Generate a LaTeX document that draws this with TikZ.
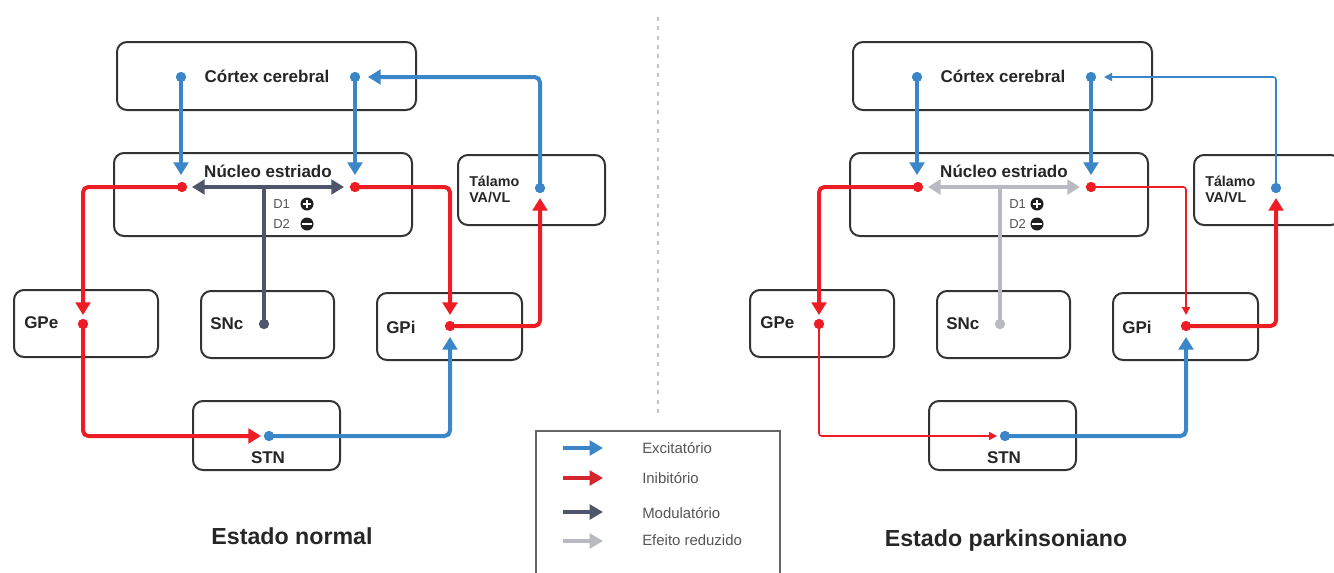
\documentclass[tikz,border=0pt]{standalone}
\usepackage{fontspec}
\setmainfont{Liberation Sans}
\usetikzlibrary{arrows.meta,calc}
\definecolor{cexc}{HTML}{3A86C8}
\definecolor{cinh}{HTML}{EE1C25}
\definecolor{cmod}{HTML}{4F556B}
\definecolor{cred}{HTML}{B9BAC1}
\definecolor{cbox}{HTML}{333333}
\definecolor{ctext}{HTML}{262626}
\definecolor{legred}{HTML}{D5262D}
\definecolor{cdiv}{HTML}{C4C4C4}
\definecolor{legline}{HTML}{666666}
\definecolor{legtext}{HTML}{555555}
\tikzset{
  box/.style={draw=cbox, line width=1.5pt, rounded corners=7.5pt, inner sep=0pt, fill=white},
  lbl/.style={font=\bfseries\fontsize{12.75}{15}\selectfont, text=ctext, inner sep=0pt},
  tallbl/.style={font=\bfseries\fontsize{10.7}{12}\selectfont, text=ctext, inner sep=0pt, align=left},
  dlbl/.style={font=\fontsize{9.75}{11}\selectfont, text=legtext, inner sep=0pt},
  title/.style={font=\bfseries\fontsize{17.4}{20}\selectfont, text=ctext, inner sep=0pt},
  legtxt/.style={font=\fontsize{11.2}{13}\selectfont, text=legtext, inner sep=0pt, anchor=west},
  dotn/.style={circle, fill=#1, inner sep=0pt, minimum size=7.5pt},
  bigarr/.style={draw=#1, line width=3pt, rounded corners=4pt, -{Triangle[length=9.5pt,width=11pt]}},
  smallarr/.style={draw=#1, line width=1.2pt, rounded corners=2pt, -{Triangle[length=6pt,width=6pt]}},
  modarr/.style={draw=#1, line width=3pt, {Triangle[length=9.5pt,width=11pt]}-{Triangle[length=9.5pt,width=11pt]}},
  modline/.style={draw=#1, line width=3pt},
  legarr/.style={draw=#1, line width=3.6pt, -{Triangle[length=10pt,width=11pt]}},
  plusc/.style={circle, fill=black!88, minimum size=9.75pt, inner sep=0pt,
    path picture={\draw[white,line width=1.7pt] ([xshift=-3.2pt]path picture bounding box.center) -- ([xshift=3.2pt]path picture bounding box.center);
                  \draw[white,line width=1.7pt] ([yshift=-3.2pt]path picture bounding box.center) -- ([yshift=3.2pt]path picture bounding box.center);}},
  minusc/.style={circle, fill=black!88, minimum size=9.75pt, inner sep=0pt,
    path picture={\draw[white,line width=1.9pt] ([xshift=-3.4pt]path picture bounding box.center) -- ([xshift=3.4pt]path picture bounding box.center);}},
}
% #1 suffix, #2 xshift (pt), #3 thal->ctx style, #4 nuc->gpi style, #5 gpe->stn style, #6 mod colour, #7 x of D1/D2 signs
\newcommand\drawpanel[7]{%
\begin{scope}[xshift=#2]
  % boxes
  \node[box, minimum width=224.25pt, minimum height=51pt] (ctx#1) at (266.5,76) {};
  \node[box, minimum width=223.5pt, minimum height=62.25pt] (nuc#1) at (263,194.5) {};
  \node[box, minimum width=110.25pt, minimum height=52.5pt] (tal#1) at (531.5,190) {};
  \node[box, minimum width=108pt, minimum height=50.25pt] (gpe#1) at (86,323.5) {};
  \node[box, minimum width=99.75pt, minimum height=50.25pt] (snc#1) at (267.5,324.5) {};
  \node[box, minimum width=108.75pt, minimum height=50.25pt] (gpi#1) at (449.5,326.5) {};
  \node[box, minimum width=110.25pt, minimum height=51.75pt] (stn#1) at (266.5,435.5) {};
  % labels
  \node[lbl] (ctxT#1) at (267,76) {Córtex cerebral};
  \node[lbl] (nucT#1) at (268,171) {Núcleo estriado};
  \node[tallbl, anchor=west] (talT#1) at (469,189) {Tálamo\\VA/VL};
  \node[lbl, anchor=west] (gpeT#1) at (24,323) {GPe};
  \node[lbl, anchor=west] (sncT#1) at (210,324) {SNc};
  \node[lbl, anchor=west] (gpiT#1) at (386,327) {GPi};
  \node[lbl] (stnT#1) at (268,458) {STN};
  \node[dlbl, anchor=west] (d1#1) at (273,204) {D1};
  \node[dlbl, anchor=west] (d2#1) at (273,224) {D2};
  \node[plusc] (pl#1) at (#7,204) {};
  \node[minusc] (mi#1) at (#7,224) {};
  % arrow end points and dot positions
  \coordinate (aNucL#1) at (181,175);
  \coordinate (aNucR#1) at (355,175);
  \coordinate (aCtx#1) at (368,77);
  \coordinate (aGpe#1) at (83,315);
  \coordinate (aGpiT#1) at (450,315);
  \coordinate (aStn#1) at (261,436);
  \coordinate (aGpiB#1) at (450,337);
  \coordinate (aTal#1) at (540,198);
  \coordinate (modJ#1) at (264,187);
  \coordinate (aModL#1) at (192,187);
  \coordinate (aModR#1) at (344,187);
  \node[dotn=cexc] (dctxL#1) at (181,77) {};
  \node[dotn=cexc] (dctxR#1) at (355,77) {};
  \node[dotn=cinh] (dnucL#1) at (182,187) {};
  \node[dotn=cinh] (dnucR#1) at (355,187) {};
  \node[dotn=cexc] (dtal#1) at (540,188) {};
  \node[dotn=cinh] (dgpe#1) at (83,324) {};
  \node[dotn=#6] (dsnc#1) at (264,324) {};
  \node[dotn=cinh] (dgpi#1) at (450,326) {};
  \node[dotn=cexc] (dstn#1) at (269,436) {};
  % modulatory
  \draw[modline=#6] (modJ#1) -- (dsnc#1.center);
  \draw[modarr=#6] (aModL#1) -- (aModR#1);
  % connectors
  \draw[bigarr=cexc] (dctxL#1.center) -- (aNucL#1);
  \draw[bigarr=cexc] (dctxR#1.center) -- (aNucR#1);
  \draw[#3=cexc] (dtal#1.center) |- (aCtx#1);
  \draw[bigarr=cinh] (dnucL#1.center) -| (aGpe#1);
  \draw[#4=cinh] (dnucR#1.center) -| (aGpiT#1);
  \draw[#5=cinh] (dgpe#1.center) |- (aStn#1);
  \draw[bigarr=cexc] (dstn#1.center) -| (aGpiB#1);
  \draw[bigarr=cinh] (dgpi#1.center) -| (aTal#1);
  % dots again on top
  \foreach \d/\c in {dctxL/cexc,dctxR/cexc,dnucL/cinh,dnucR/cinh,dtal/cexc,dgpe/cinh,dsnc/#6,dgpi/cinh,dstn/cexc}
    \fill[\c] (\d#1.center) circle (3.75pt);
\end{scope}}

\begin{document}
\begin{tikzpicture}[x=0.75pt,y=-0.75pt]
  \useasboundingbox (0,0) rectangle (1334,572);
  \clip (0,0) rectangle (1334,572);
  % divider
  \draw[cdiv, line width=1.5pt, dash pattern=on 3pt off 4pt] (658,17) -- (658,415);
  \drawpanel{L}{0pt}{bigarr}{bigarr}{bigarr}{cmod}{307}
  \drawpanel{R}{552pt}{smallarr}{smallarr}{smallarr}{cred}{301}
  % titles
  \node[title] (t1) at (292,536) {Estado normal};
  \node[title] (t2) at (1006,540) {Estado parkinsoniano};
  % legend
  \draw[legline, line width=1.2pt] (536,575) |- (780,431) -- (780,575);
  \node[legtxt] (lgExc) at (642,448) {Excitatório};
  \node[legtxt] (lgInh) at (642,478) {Inibitório};
  \node[legtxt] (lgMod) at (642,513) {Modulatório};
  \node[legtxt] (lgRed) at (642,540) {Efeito reduzido};
  \coordinate (lgExcS) at (563,448); \coordinate (lgExcE) at (603,448);
  \coordinate (lgInhS) at (563,478); \coordinate (lgInhE) at (603,478);
  \coordinate (lgModS) at (563,512); \coordinate (lgModE) at (603,512);
  \coordinate (lgRedS) at (563,541); \coordinate (lgRedE) at (603,541);
  \draw[legarr=cexc] (lgExcS) -- (lgExcE);
  \draw[legarr=legred] (lgInhS) -- (lgInhE);
  \draw[legarr=cmod] (lgModS) -- (lgModE);
  \draw[legarr=cred] (lgRedS) -- (lgRedE);
\end{tikzpicture}
\end{document}
